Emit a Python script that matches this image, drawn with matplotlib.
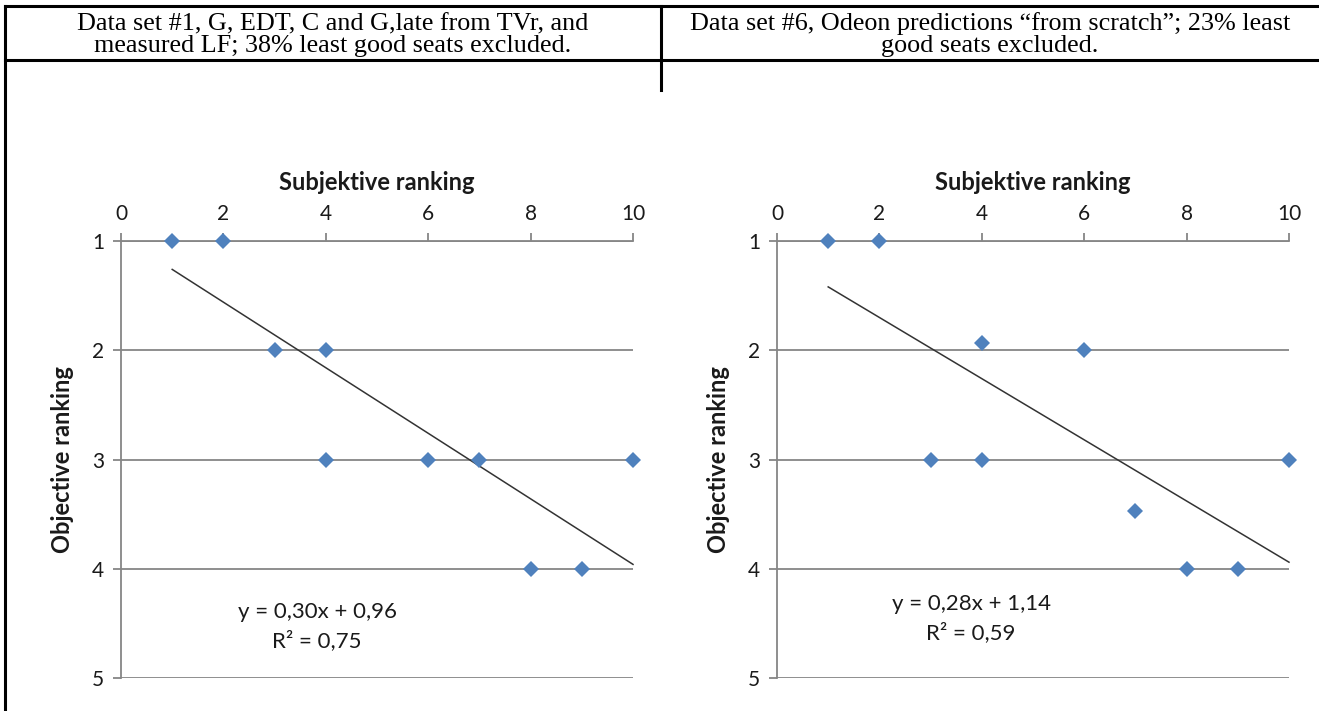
import matplotlib
matplotlib.use("Agg")
import matplotlib.pyplot as plt
from matplotlib.lines import Line2D
import numpy as np

# data
x1 = [1, 2, 3, 4, 4, 6, 7, 10, 8, 9]
y1 = [1, 1, 2, 2, 3, 3, 3, 3, 4, 4]
x2 = [1, 2, 4, 6, 3, 4, 10, 7, 8, 9]
y2 = [1, 1, 1.93, 2, 3, 3, 3, 3.47, 4, 4]

# trend lines (slope, intercept) and R^2 as printed on the charts
slopes = [0.30, 0.28]
intercepts = [0.96, 1.14]
r2 = [0.75, 0.59]

headers = [
    "Data set #1, G, EDT, C and G,late from TVr, and\nmeasured LF; 38% least good seats excluded.",
    "Data set #6, Odeon predictions \u201cfrom scratch\u201d; 23% least\ngood seats excluded.",
]
x_ticks = [0, 2, 4, 6, 8, 10]
y_ticks = [1, 2, 3, 4, 5]

W, H = 1319, 711
fig = plt.figure(figsize=(W / 100, H / 100), dpi=100)

def fx(px):
    return px / W

def fy(py):
    return 1 - py / H

# table borders
lw = 2.2
for xs, ys in [((5, W), (6, 6)), ((5, W), (60, 60)), ((5, 5), (6, H)), ((661, 661), (6, 90))]:
    fig.add_artist(Line2D([fx(xs[0]), fx(xs[1])], [fy(ys[0]), fy(ys[1])],
                          color="black", lw=lw, transform=fig.transFigure))

# header texts
for cx, txt in zip([333, 990], headers):
    fig.text(fx(cx), fy(35), txt, ha="center", va="center", family="Liberation Serif",
             fontsize=18.8, linespacing=1.0)

grey = "#868686"
blue = "#4F81BD"
txtc = "#1a1a1a"
font = "Lato"

datasets = [(x1, y1), (x2, y2)]
lefts = [121, 777]
eq_pos = [(317, 612), (971, 604)]

for i, (xs, ys) in enumerate(datasets):
    ax = fig.add_axes([fx(lefts[i]), fy(678), fx(512), (678 - 241) / H])
    ax.set_xlim(0, 10)
    ax.set_ylim(5, 1)
    ax.xaxis.tick_top()
    ax.xaxis.set_label_position("top")
    ax.set_xticks(x_ticks)
    ax.set_yticks(y_ticks)
    for s in ["right", "bottom"]:
        ax.spines[s].set_visible(False)
    for s in ["left", "top"]:
        ax.spines[s].set_color(grey)
        ax.spines[s].set_linewidth(1.3)
    ax.yaxis.grid(True, color=grey, lw=1.3)
    ax.set_axisbelow(True)
    ax.tick_params(axis="both", colors=grey, length=6, width=1.3, labelcolor=txtc,
                   labelsize=15)
    ax.tick_params(axis="x", pad=6)
    ax.tick_params(axis="y", pad=6)
    for lab in ax.get_xticklabels() + ax.get_yticklabels():
        lab.set_family(font)
    ax.set_xlabel("Subjektive ranking", fontsize=17, fontweight="bold", family=font,
                  color=txtc, labelpad=10)
    ax.set_ylabel("Objective ranking", fontsize=17, fontweight="bold", family=font,
                  color=txtc, labelpad=13)

    xl = np.array([min(xs), max(xs)])
    ax.plot(xl, slopes[i] * xl + intercepts[i], color="#333333", lw=1.1, clip_on=False)
    ax.plot(xs, ys, linestyle="none", marker="D", markersize=8.5, color=blue,
            markeredgewidth=0, clip_on=False, zorder=5)

    ex, ey = eq_pos[i]
    eq = "y = %sx + %s" % (("%.2f" % slopes[i]).replace(".", ","),
                           ("%.2f" % intercepts[i]).replace(".", ","))
    fig.text(fx(ex), fy(ey), eq, ha="center", va="center", family=font, fontsize=16,
             color=txtc)
    fig.text(fx(ex), fy(ey + 29), "R\u00b2 = " + ("%.2f" % r2[i]).replace(".", ","),
             ha="center", va="center", family=font, fontsize=16, color=txtc)

fig.savefig("out.png", dpi=100)
